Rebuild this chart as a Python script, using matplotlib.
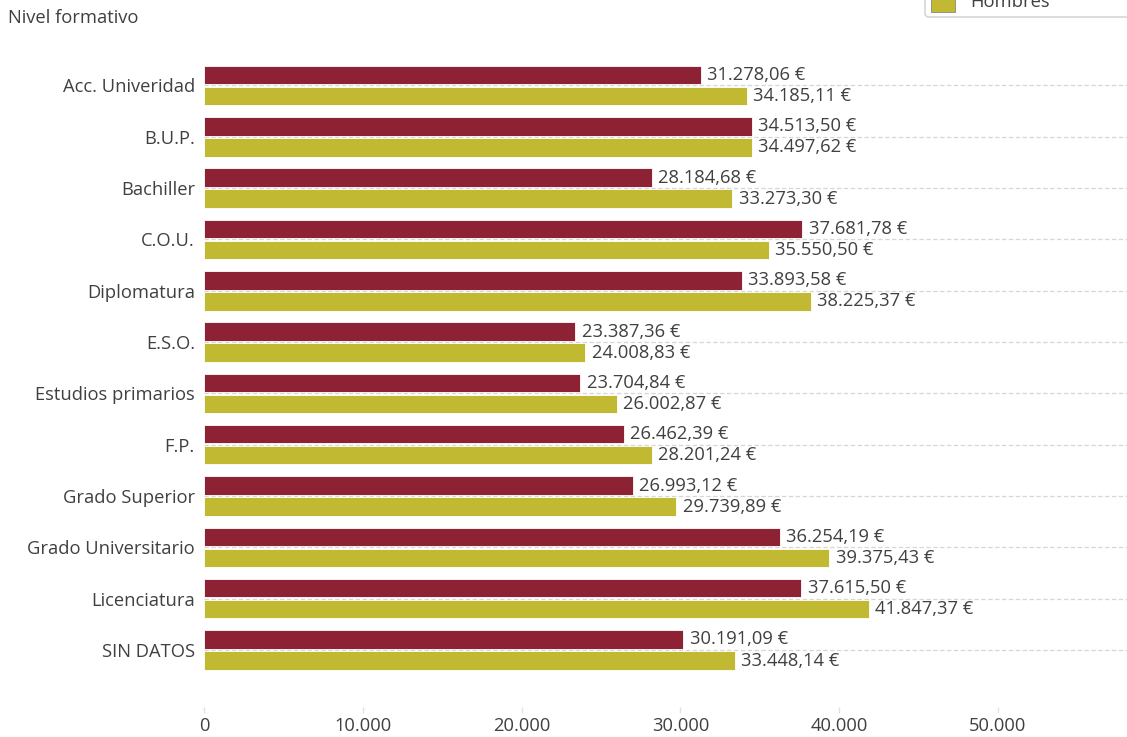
import matplotlib
matplotlib.use("Agg")
import matplotlib.pyplot as plt
from matplotlib.patches import Patch
from matplotlib.ticker import FuncFormatter

categories = ["Acc. Univeridad", "B.U.P.", "Bachiller", "C.O.U.", "Diplomatura", "E.S.O.",
              "Estudios primarios", "F.P.", "Grado Superior", "Grado Universitario",
              "Licenciatura", "SIN DATOS"]
mujeres = [31278.06, 34513.50, 28184.68, 37681.78, 33893.58, 23387.36,
           23704.84, 26462.39, 26993.12, 36254.19, 37615.50, 30191.09]
hombres = [34185.11, 34497.62, 33273.30, 35550.50, 38225.37, 24008.83,
           26002.87, 28201.24, 29739.89, 39375.43, 41847.37, 33448.14]
series_names = ["Mujeres", "Hombres"]
xticks = [0, 10000, 20000, 30000, 40000, 50000]

RED = "#8c2233"
OLIVE = "#c1b932"
TXT = "#404040"
FS = 13.2

plt.rcParams['font.family'] = ['Open Sans', 'DejaVu Sans']

W, H = 1127, 737
fig = plt.figure(figsize=(W / 100, H / 100), dpi=100)

top_px, bot_px = 50, 707
ax = fig.add_axes([204 / W, 1 - bot_px / H, 1 - 204 / W, (bot_px - top_px) / H])

spacing = (650 - 85.5) / 11
ax.set_ylim(11 + (bot_px - 650) / spacing, -(85.5 - top_px) / spacing)
ax.set_xlim(0, (W - 204) / 158.8 * 10000)

ypos = list(range(len(categories)))
off = 10.5 / spacing
h = 18.5 / spacing

def fmt(v):
    s = f"{v:,.2f}"
    s = s.replace(",", "X").replace(".", ",").replace("X", ".")
    return s + " €"

for i in ypos:
    ax.axhline(i, color="#d6d6d6", lw=0.9, ls=(0, (3.5, 2)), zorder=0)

ax.barh([y - off for y in ypos], mujeres, height=h, color=RED, edgecolor="white", linewidth=0.6, zorder=2)
ax.barh([y + off for y in ypos], hombres, height=h, color=OLIVE, edgecolor="white", linewidth=0.6, zorder=2)

for y, v in zip(ypos, mujeres):
    ax.annotate(fmt(v), (v, y - off), xytext=(4.5, 0), textcoords="offset points",
                va="center", ha="left", fontsize=FS, color=TXT)
for y, v in zip(ypos, hombres):
    ax.annotate(fmt(v), (v, y + off), xytext=(4.5, 0), textcoords="offset points",
                va="center", ha="left", fontsize=FS, color=TXT)

ax.set_yticks(ypos)
ax.set_yticklabels(categories, fontsize=FS, color=TXT)
ax.tick_params(axis="y", length=0, pad=6.5)
ax.set_xticks(xticks)
ax.xaxis.set_major_formatter(FuncFormatter(lambda v, p: f"{int(v):,}".replace(",", ".")))
ax.tick_params(axis="x", length=4, color="#e2e2e2", width=1, labelsize=FS, labelcolor=TXT, pad=3.5)
for s in ax.spines.values():
    s.set_visible(False)

fig.text(8 / W, 1 - 18 / H, "Nivel formativo", fontsize=13.2, color=TXT, va="center", ha="left")

handles = [Patch(facecolor=RED, edgecolor="#888888", lw=0.6), Patch(facecolor=OLIVE, edgecolor="#888888", lw=0.6)]
leg = fig.legend(handles, series_names, loc="lower left",
                 bbox_to_anchor=(925 / W, 1 - 17 / H, 260 / W, 0.05), mode="expand",
                 frameon=True, fontsize=FS, handlelength=1.35, handleheight=1.45,
                 borderpad=0.3, labelspacing=0.5, handletextpad=0.8, fancybox=True,
                 borderaxespad=0)
leg.get_frame().set_edgecolor("#cccccc")
leg.get_frame().set_linewidth(1.2)
for t in leg.get_texts():
    t.set_color(TXT)

fig.savefig("out.png", dpi=100)
